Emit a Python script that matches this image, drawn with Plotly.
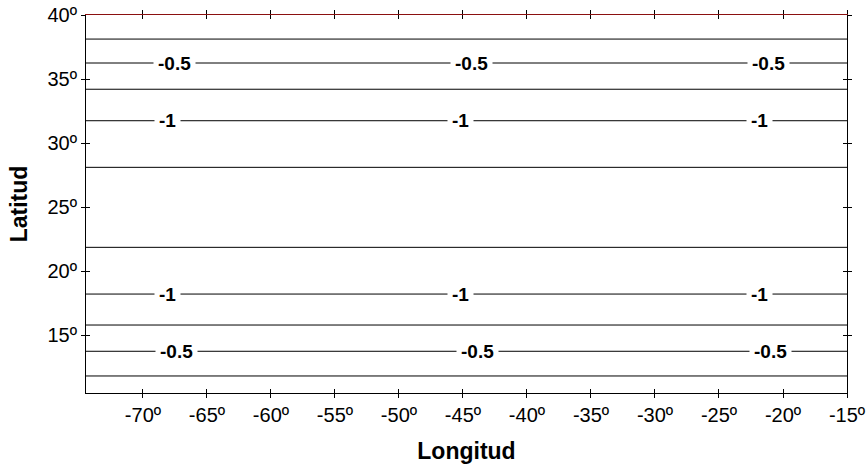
import plotly.graph_objects as go

# ---- data ----
lon_range = [-74.45, -15.0]
lat_range = [10.47, 40.0]
contour_lats = [38.12, 36.25, 34.20, 31.74, 28.10, 21.85, 18.20, 15.78, 13.73, 11.80]
label_text = ["-0.5", "-1", "-1", "-0.5"]
label_lats = [36.25, 31.74, 18.20, 13.73]
label_lons = [
    [-67.5, -44.3, -21.1],
    [-68.1, -45.2, -21.8],
    [-68.1, -45.2, -21.8],
    [-67.4, -43.9, -21.0],
]
x_ticks = [-70, -65, -60, -55, -50, -45, -40, -35, -30, -25, -20, -15]
y_ticks = [15, 20, 25, 30, 35, 40]
x_ticktext = [f"{v}º" for v in x_ticks]
y_ticktext = [f"{v}º" for v in y_ticks]

FONT = "Liberation Sans, Arial, Helvetica, sans-serif"

fig = go.Figure()
for lat in contour_lats:
    fig.add_trace(go.Scatter(
        x=lon_range, y=[lat, lat], mode="lines",
        line=dict(color="black", width=1), hoverinfo="skip", showlegend=False))

# empty traces so that the overlaid tick axes are drawn
for xa, ya in [("x2", "y2"), ("x3", "y"), ("x4", "y"), ("x", "y3"), ("x", "y4")]:
    fig.add_trace(go.Scatter(x=[], y=[], xaxis=xa, yaxis=ya, mode="lines",
                             hoverinfo="skip", showlegend=False))

annotations = []
for txt, lat, lons in zip(label_text, label_lats, label_lons):
    for lon in lons:
        annotations.append(dict(
            x=lon, y=lat, xref="x", yref="y", text=f"<b>{txt}</b>",
            showarrow=False, bgcolor="white", borderpad=4,
            font=dict(family=FONT, size=19, color="black")))

common_x = dict(range=lon_range, tickvals=x_ticks, showgrid=False, zeroline=False,
                ticklen=4, tickwidth=1, tickcolor="black", automargin=False)
common_y = dict(range=lat_range, tickvals=y_ticks, showgrid=False, zeroline=False,
                ticklen=4, tickwidth=1, tickcolor="black", automargin=False)

fig.update_layout(
    width=867, height=468,
    margin=dict(l=86, r=20, t=15, b=75),
    paper_bgcolor="white", plot_bgcolor="white",
    showlegend=False,
    annotations=annotations,
    xaxis=dict(**common_x, side="bottom", ticks="outside", showline=True,
               linecolor="black", linewidth=1, ticktext=x_ticktext,
               tickfont=dict(family=FONT, size=20, color="black"),
               title=dict(text="<b>Longitud</b>", standoff=17,
                          font=dict(family=FONT, size=23, color="black"))),
    xaxis2=dict(**common_x, overlaying="x", matches="x", anchor="y2", side="bottom",
                ticks="inside", showline=False, showticklabels=False),
    xaxis3=dict(**common_x, overlaying="x", matches="x", anchor="y", side="top",
                ticks="outside", showline=True, linecolor="#8b1010", linewidth=1,
                showticklabels=False),
    xaxis4=dict(**common_x, overlaying="x", matches="x", anchor="y", side="top",
                ticks="inside", showline=False, showticklabels=False),
    yaxis=dict(**common_y, side="left", ticks="outside", showline=True,
               linecolor="black", linewidth=1, ticktext=y_ticktext,
               tickfont=dict(family=FONT, size=20, color="black"),
               title=dict(text="<b>Latitud</b>", standoff=13,
                          font=dict(family=FONT, size=23, color="black"))),
    yaxis2=dict(**common_y, overlaying="y", matches="y", anchor="x2", side="left",
                ticks="inside", showline=False, showticklabels=False),
    yaxis3=dict(**common_y, overlaying="y", matches="y", anchor="x", side="right",
                ticks="outside", showline=True, linecolor="black", linewidth=1,
                showticklabels=False),
    yaxis4=dict(**common_y, overlaying="y", matches="y", anchor="x", side="right",
                ticks="inside", showline=False, showticklabels=False),
)

fig.write_html("out.html", config={"displayModeBar": False},
               post_script="document.body.style.margin='0px';")
